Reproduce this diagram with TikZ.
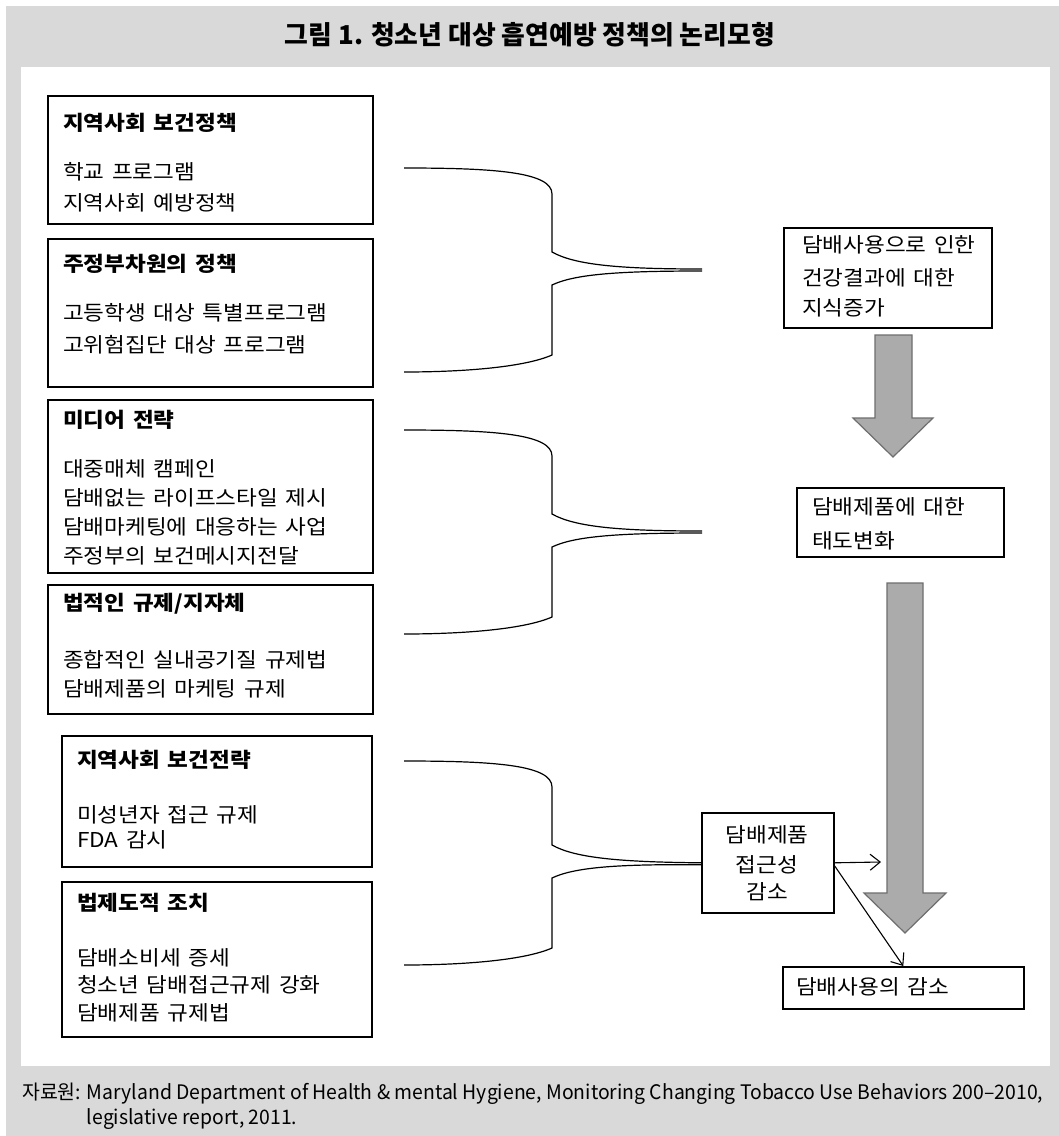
\documentclass[tikz,border=0pt]{standalone}
\usepackage{fontspec}
\setmainfont{Noto Sans CJK KR}[WordSpace=1.5,FakeStretch=1.1]
\newfontfamily\plainfont{Noto Sans CJK KR}
\usetikzlibrary{arrows.meta}
\definecolor{bggray}{HTML}{D9D9D9}
\definecolor{arrfill}{HTML}{ABABAB}
\definecolor{arrdraw}{HTML}{6E6E6E}
\newcommand\mybracepath{%
  \draw[brace] (bt) .. controls (495,168) and (552,172) .. (552,194) -- (552,252)
     .. controls (575,265) and (620,269) .. (bm);
  \draw[brace] ([yshift=-2pt]bm) .. controls (620,271) and (575,274) .. (552,285) -- (552,355)
     .. controls (525,367) and (465,372) .. (bb);}
\begin{document}
\begin{tikzpicture}[x=1pt,y=-1pt,
  box/.style={draw=black,line width=1.6pt,fill=white,inner sep=0pt,anchor=north west},
  hd/.style={anchor=base west,inner sep=0pt,font=\fontsize{20.5}{24}\selectfont\bfseries},
  tx/.style={anchor=base west,inner sep=0pt,font=\fontsize{20.5}{24}\selectfont},
  tc/.style={anchor=base,inner sep=0pt,font=\fontsize{20.5}{24}\selectfont},
  brace/.style={line width=1.2pt},
  conn/.style={line width=1.1pt,-{Straight Barb[length=10pt,width=16pt,line width=1.1pt]}},
  bigarrow/.style={fill=arrfill,draw=arrdraw,line width=1.2pt}]

\useasboundingbox (0,0) rectangle (1059,1136);
\fill[white] (0,0) rectangle (1059,1136);
\fill[bggray] (6,6) rectangle (1059,1136);
\fill[white] (21,67) rectangle (1050,1066);

% title
\node[font=\plainfont\fontsize{26}{30}\selectfont\bfseries,inner sep=0pt] (title) at (530,35)
  {\resizebox{490pt}{\height}{그림 1. 청소년 대상 흡연예방 정책의 논리모형}};

% left boxes
\node[box,minimum width=325pt,minimum height=128pt] (b1) at (47,95) {};
\node[hd] (b1h) at (63,130) {지역사회 보건정책};
\node[tx] (b1a) at (63,179) {학교 프로그램};
\node[tx] (b1b) at (63,210) {지역사회 예방정책};

\node[box,minimum width=325pt,minimum height=148pt] (b2) at (47,238) {};
\node[hd] (b2h) at (63,271) {주정부차원의 정책};
\node[tx] (b2a) at (63,320) {고등학생 대상 특별프로그램};
\node[tx] (b2b) at (63,352) {고위험집단 대상 프로그램};

\node[box,minimum width=325pt,minimum height=173pt] (b3) at (47,399) {};
\node[hd] (b3h) at (63,427) {미디어 전략};
\node[tx] (b3a) at (63,476) {대중매체 캠페인};
\node[tx] (b3b) at (63,505) {담배없는 라이프스타일 제시};
\node[tx] (b3c) at (63,534) {담배마케팅에 대응하는 사업};
\node[tx] (b3d) at (63,563) {주정부의 보건메시지전달};

\node[box,minimum width=325pt,minimum height=129pt] (b4) at (47,584) {};
\node[hd] (b4h) at (63,610) {법적인 규제/지자체};
\node[tx] (b4a) at (63,667) {종합적인 실내공기질 규제법};
\node[tx] (b4b) at (63,696) {담배제품의 마케팅 규제};

\node[box,minimum width=310pt,minimum height=131pt] (b5) at (61,735) {};
\node[hd] (b5h) at (77,767) {지역사회 보건전략};
\node[tx] (b5a) at (77,822) {미성년자 접근 규제};
\node[tx] (b5b) at (77,847) {FDA 감시};

\node[box,minimum width=310pt,minimum height=155pt] (b6) at (61,881) {};
\node[hd] (b6h) at (77,910) {법제도적 조치};
\node[tx] (b6a) at (77,965) {담배소비세 증세};
\node[tx] (b6b) at (77,992) {청소년 담배접근규제 강화};
\node[tx] (b6c) at (77,1020) {담배제품 규제법};

% right boxes
\node[box,minimum width=208pt,minimum height=100pt] (r1) at (783,227) {};
\node[tx] (r1a) at (802,252) {담배사용으로 인한};
\node[tx] (r1b) at (802,285) {건강결과에 대한};
\node[tx] (r1c) at (802,315) {지식증가};

\node[box,minimum width=207pt,minimum height=69pt] (r2) at (796,487) {};
\node[tx] (r2a) at (812,514) {담배제품에 대한};
\node[tx] (r2b) at (812,548) {태도변화};

\node[box,minimum width=132pt,minimum height=100pt] (r3) at (701,812) {};
\node[tc] (r3a) at (767,842) {담배제품};
\node[tc] (r3b) at (767,872) {접근성};
\node[tc] (r3c) at (767,899) {감소};

\node[box,minimum width=241pt,minimum height=42pt] (r4) at (782,966) {};
\node[tx] (r4a) at (796,994) {담배사용의 감소};

% braces
\begin{scope}
  \coordinate (bt) at (404,168); \coordinate (bm) at (702,269); \coordinate (bb) at (404,372);
  \mybracepath
\end{scope}
\begin{scope}[shift={(0,262)}]
  \coordinate (bt) at (404,168); \coordinate (bm) at (702,269); \coordinate (bb) at (404,372);
  \mybracepath
\end{scope}
\begin{scope}[shift={(0,593)}]
  \coordinate (bt) at (404,168); \coordinate (bm) at (r3.west); \coordinate (bb) at (404,372);
  \mybracepath
\end{scope}

% big arrows
\draw[bigarrow] (875,335) -- (912,335) -- (912,418) -- (933,418) -- (893,457) -- (853,418) -- (875,418) -- cycle;
\draw[bigarrow] (887,583) -- (923,583) -- (923,893) -- (946,893) -- (905,933) -- (864,893) -- (887,893) -- cycle;

% connectors
\coordinate (r3out) at (881,862);
\draw[conn] (r3.east) -- (r3out);
\draw[conn] ([yshift=-3pt]r3.east) -- (r4.north);

% source
\node[anchor=north west,inner sep=0pt,font=\plainfont\fontsize{20}{25}\selectfont] (src) at (22,1082)
  {\resizebox{1021pt}{\height}{\begin{tabular}{@{}l@{}}자료원: Maryland Department of Health \& mental Hygiene, Monitoring Changing Tobacco Use Behaviors 200–2010,\\\phantom{자료원: }legislative report, 2011.\end{tabular}}};
\end{tikzpicture}
\end{document}
